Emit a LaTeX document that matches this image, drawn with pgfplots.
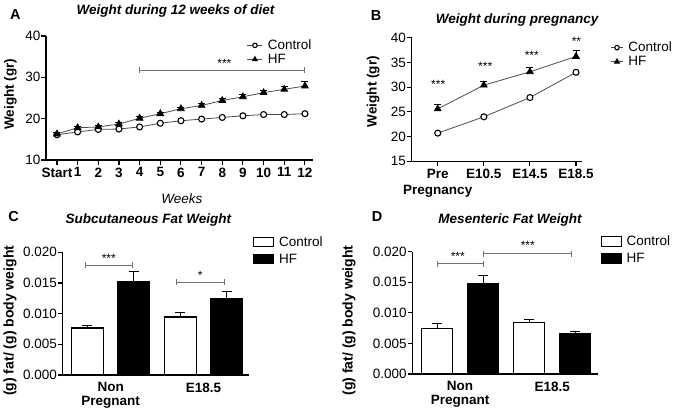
\documentclass[border=0pt]{standalone}
\usepackage{fontspec}
\setmainfont{Liberation Sans}
\usepackage{pgfplots}
\usepackage{pgfplotstable}
\pgfplotsset{compat=1.18}
\newcommand{\fs}{\fontsize{13.5}{16}\selectfont}
\newcommand{\fsb}{\fontsize{13.5}{14}\selectfont}

\pgfplotstableread{
x ctrl hf hferr
0 16.1 16.3 0.3
1 16.8 17.8 0.3
2 17.4 18.0 0.3
3 17.5 18.7 0.4
4 18.0 20.1 0.4
5 18.9 21.2 0.4
6 19.5 22.4 0.4
7 19.9 23.2 0.4
8 20.3 24.4 0.4
9 20.7 25.3 0.5
10 21.0 26.3 0.6
11 21.0 27.1 0.8
12 21.2 27.9 1.1
}\dataA

\pgfplotstableread{
x ctrl hf hferr
0 20.7 25.6 0.9
1 24.0 30.4 0.8
2 27.9 33.1 0.8
3 33.0 36.2 1.2
}\dataB

\pgfplotstableread{
x y err
0 0.00766 0.00044
2 0.00946 0.00070
}\ctrlC
\pgfplotstableread{
x y err
1 0.01522 0.00163
3 0.01239 0.00120
}\hfC
\pgfplotstableread{
x y err
0 0.00741 0.00082
2 0.00845 0.00054
}\ctrlD
\pgfplotstableread{
x y err
1 0.01482 0.00126
3 0.00665 0.00033
}\hfD

\tikzset{sigstar/.style={font=\fontsize{12}{12}\selectfont, anchor=center}}

\pgfplotsset{
  base/.style={
    scale only axis,
    anchor=south west,
    axis lines=left,
    axis line style={-, line width=1.2pt, black},
    tick align=outside,
    major tick length=4.5pt,
    tick style={line width=1.1pt, black},
    clip=false,
    scaled y ticks=false,
    /pgf/number format/assume math mode=true,
    yticklabel style={font=\fs, inner sep=1pt},
    xticklabel style={font=\fs\bfseries, inner sep=3pt, align=center},
    label style={font=\fontsize{13.5}{16}\selectfont\bfseries},
    legend style={draw=none, fill=none, font=\fs, inner sep=0pt, outer sep=0pt,
      row sep=1pt, column sep=4pt, nodes={inner sep=1pt, text depth=0.15em},
      anchor=north west},
    legend cell align=left,
  },
  errup/.style={
    error bars/y dir=plus, error bars/y explicit,
    error bars/error bar style={line width=1pt, black},
    error bars/error mark options={rotate=90, line width=1pt, black, mark size=#1}},
  linectrl/.style={black!70, line width=0.8pt, mark=*, mark size=3pt,
    mark options={solid, draw=black, fill=white, line width=1.1pt}},
  linehf/.style={black!70, line width=0.8pt, mark=triangle*, mark size=3.8pt,
    mark options={solid, draw=black, fill=black}, errup=3.5pt},
  sig/.style={black!55, line width=0.9pt, mark=|, mark size=3pt, mark options={solid}, forget plot},
  barstyle/.style={ybar, bar width=#1, bar shift=0pt, draw=black, line width=1.1pt, errup=5pt},
}

\begin{document}
\begin{tikzpicture}
\useasboundingbox (0pt,0pt) rectangle (679pt,-413pt);

% ---------------- Panel A
\begin{axis}[base, at={(46pt,-160pt)}, width=267pt, height=124pt,
  xmin=-0.53, xmax=12.39, ymin=10, ymax=40, ytick={10,20,30,40},
  xtick={0,...,12}, xticklabels={Start,1,2,3,4,5,6,7,8,9,10,11,12},
  ylabel={Weight (gr)}, ylabel style={at={(axis description cs:-0.133,0.532)}, anchor=center},
  xlabel={Weeks}, xlabel style={font=\fs\itshape, at={(axis description cs:0.509,-0.347)}, anchor=base},
  legend style={at={(axis description cs:0.753,0.978)}},
  legend image code/.code={\draw[mark repeat=2,mark phase=2,#1, every mark/.append style={scale=0.75}] plot coordinates {(0pt,0pt)(7.5pt,0pt)(15pt,0pt)};},
]
\addplot[linectrl] table[x=x, y=ctrl] {\dataA};
\addlegendentry{Control}
\addplot[linehf] table[x=x, y=hf, y error=hferr] {\dataA};
\addlegendentry{HF}
\addplot[sig] coordinates {(4,31.7) (12,31.7)};
\node[sigstar] at (axis cs:8.1,33.3) {***};
\end{axis}

% ---------------- Panel B
\begin{axis}[base, at={(411.7pt,-161.3pt)}, width=170.3pt, height=123.6pt,
  xmin=-0.565, xmax=3.13, ymin=15, ymax=40, ytick={15,20,25,30,35,40},
  xtick={0,1,2,3}, xticklabels={{Pre\\Pregnancy},E10.5,E14.5,E18.5},
  ylabel={Weight (gr)}, ylabel style={at={(axis description cs:-0.227,0.563)}, anchor=center},
  legend style={at={(axis description cs:1.168,0.973)}},
  legend image code/.code={\draw[mark repeat=2,mark phase=2,#1, every mark/.append style={scale=0.75}] plot coordinates {(0pt,0pt)(6pt,0pt)(12pt,0pt)};},
]
\addplot[linectrl] table[x=x, y=ctrl] {\dataB};
\addlegendentry{Control}
\addplot[linehf] table[x=x, y=hf, y error=hferr] {\dataB};
\addlegendentry{HF}
\node[sigstar] at (axis cs:0.01,30.5) {***};
\node[sigstar] at (axis cs:1.03,34.2) {***};
\node[sigstar] at (axis cs:2.04,36.5) {***};
\node[sigstar] at (axis cs:3.01,39.2) {**};
\end{axis}

% ---------------- Panel C
\begin{axis}[base, at={(62.7pt,-375pt)}, width=186.6pt, height=122.7pt,
  xmin=-0.534, xmax=3.49, ymin=0, ymax=0.02, ytick={0,0.005,0.01,0.015,0.02},
  yticklabel style={/pgf/number format/.cd, fixed, fixed zerofill, precision=3},
  xtick={0.5,2.5}, xticklabels={{Non\\Pregnant},E18.5},
  xticklabel style={font=\fsb\bfseries}, xtick style={draw=none},
  ylabel={(g) fat/ (g) body weight}, ylabel style={font=\fontsize{14}{16}\selectfont\bfseries, at={(axis description cs:-0.282,0.442)}, anchor=center},
  legend style={at={(axis description cs:1.02,1.135)}, row sep=4pt},
  legend image code/.code={\draw[#1, line width=1pt] (0pt,-4.5pt) rectangle (20pt,5pt);},
]
\addplot[barstyle=32pt, fill=white] table[x=x, y=y, y error=err] {\ctrlC};
\addlegendentry{Control}
\addplot[barstyle=32pt, fill=black] table[x=x, y=y, y error=err] {\hfC};
\addlegendentry{HF}
\addplot[sig] coordinates {(-0.04,0.0179) (0.98,0.0179)};
\addplot[sig] coordinates {(1.91,0.0151) (2.95,0.0151)};
\node[sigstar] at (axis cs:0.46,0.0190) {***};
\node[sigstar] at (axis cs:2.43,0.0163) {*};
\end{axis}

% ---------------- Panel D
\begin{axis}[base, at={(412.3pt,-374pt)}, width=186pt, height=122.3pt,
  xmin=-0.537, xmax=3.5, ymin=0, ymax=0.02, ytick={0,0.005,0.01,0.015,0.02},
  yticklabel style={/pgf/number format/.cd, fixed, fixed zerofill, precision=3},
  xtick={0.5,2.5}, xticklabels={{Non\\Pregnant},E18.5},
  xticklabel style={font=\fsb\bfseries}, xtick style={draw=none},
  ylabel={(g) fat/ (g) body weight}, ylabel style={font=\fontsize{14}{16}\selectfont\bfseries, at={(axis description cs:-0.340,0.437)}, anchor=center},
  legend style={at={(axis description cs:1.013,1.137)}, row sep=4pt},
  legend image code/.code={\draw[#1, line width=1pt] (0pt,-4.5pt) rectangle (20pt,5pt);},
]
\addplot[barstyle=31pt, fill=white] table[x=x, y=y, y error=err] {\ctrlD};
\addlegendentry{Control}
\addplot[barstyle=31pt, fill=black] table[x=x, y=y, y error=err] {\hfD};
\addlegendentry{HF}
\addplot[sig] coordinates {(0,0.0180) (1,0.0180)};
\addplot[sig] coordinates {(1,0.0197) (2.91,0.0197)};
\node[sigstar] at (axis cs:0.45,0.0193) {***};
\node[sigstar] at (axis cs:1.97,0.0210) {***};
\end{axis}

% ---------------- titles and panel letters
\node[anchor=base, font=\fs\bfseries\itshape] at (175.5pt,-14pt) {Weight during 12 weeks of diet};
\node[anchor=base, font=\fs\bfseries\itshape] at (517pt,-23.3pt) {Weight during pregnancy};
\node[anchor=base, font=\fs\bfseries\itshape] at (148.3pt,-223.3pt) {Subcutaneous Fat Weight};
\node[anchor=base, font=\fs\bfseries\itshape] at (510pt,-223.3pt) {Mesenteric Fat Weight};
\node[anchor=base west, inner sep=0pt, font=\fontsize{14.5}{16}\selectfont\bfseries] at (10pt,-19.3pt) {A};
\node[anchor=base west, inner sep=0pt, font=\fontsize{14.5}{16}\selectfont\bfseries] at (370.7pt,-20.7pt) {B};
\node[anchor=base west, inner sep=0pt, font=\fontsize{14.5}{16}\selectfont\bfseries] at (8.3pt,-221.7pt) {C};
\node[anchor=base west, inner sep=0pt, font=\fontsize{14.5}{16}\selectfont\bfseries] at (371.7pt,-221.7pt) {D};
\end{tikzpicture}
\end{document}
